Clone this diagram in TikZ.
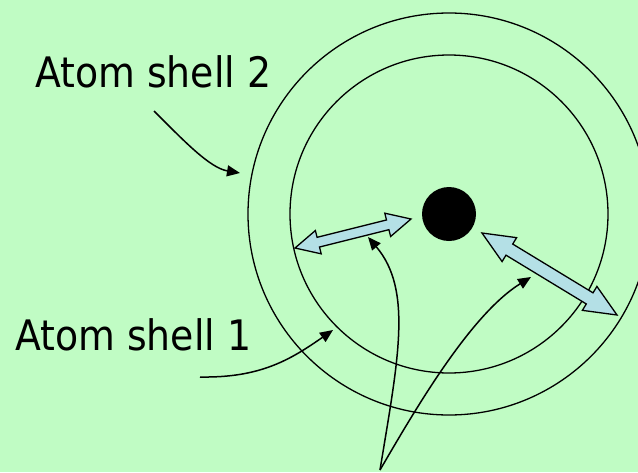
\documentclass[tikz,border=0pt]{standalone}
\usepackage{fontspec}
\setmainfont{DejaVu Sans}
\usetikzlibrary{calc,arrows.meta}
\definecolor{bggreen}{RGB}{192,252,196}
\definecolor{arrowblue}{RGB}{180,224,230}
\newcommand{\dblarrowpoly}[5]{% A, B, shaft half width, head half width, head length
  \filldraw[dblstyle] (#1)
   -- ($(#1)!#5!(#2)!#4!90:(#2)$)
   -- ($(#1)!#5!(#2)!#3!90:(#2)$)
   -- ($(#2)!#5!(#1)!#3!-90:(#1)$)
   -- ($(#2)!#5!(#1)!#4!-90:(#1)$)
   -- (#2)
   -- ($(#2)!#5!(#1)!#4!90:(#1)$)
   -- ($(#2)!#5!(#1)!#3!90:(#1)$)
   -- ($(#1)!#5!(#2)!#3!-90:(#2)$)
   -- ($(#1)!#5!(#2)!#4!-90:(#2)$)
   -- cycle;}
\begin{document}
\begin{tikzpicture}[x=1pt,y=-1pt,
  shell/.style={circle,draw=black,line width=1.3pt,inner sep=0pt},
  label/.style={anchor=base west,inner sep=0pt,font=\fontsize{42}{50}\selectfont},
  pointer/.style={line width=1.5pt,-{Triangle[length=13pt,width=11pt]}},
  dblstyle/.style={fill=arrowblue,draw=black,line width=1.3pt,line join=miter}]
\fill[bggreen] (0,0) rectangle (638,472);
\useasboundingbox (0,0) rectangle (638,472);
\clip (0,0) rectangle (638,472);
% shells and nucleus
\node[shell,minimum size=402pt] (shelltwo) at (449,214) {};
\node[shell,minimum size=318pt] (shellone) at (449,214) {};
\node[circle,fill=black,inner sep=0pt,minimum size=54pt] (nuc) at (449,214) {};
% labels
\node[label] (lbltwo) at (35,87) {\scalebox{0.9}[1]{Atom shell 2}};
\node[label] (lblone) at (15,350) {\scalebox{0.9}[1]{Atom shell 1}};
% double arrows
\coordinate (laA) at (295,248);
\coordinate (laB) at (411,219);
\coordinate (raA) at (482,233);
\coordinate (raB) at (617,315);
\dblarrowpoly{laA}{laB}{5pt}{12pt}{24pt}
\dblarrowpoly{raA}{raB}{6.5pt}{14pt}{32pt}
% pointers
\coordinate (ptwoS) at (154,111);
\coordinate (ptwoE) at (240,173);
\coordinate (poneS) at (200,377);
\coordinate (poneE) at (333,330);
\coordinate (base) at (380,470);
\coordinate (tipL) at (368,237);
\coordinate (tipR) at (531,277);
\draw[pointer] (ptwoS) .. controls (185,142) and (210,168) .. (ptwoE);
\draw[pointer] (poneS) .. controls (260,378) and (290,360) .. (poneE);
\draw[pointer] (base) .. controls (398,360) and (413,290) .. (tipL);
\draw[pointer] (base) .. controls (415,410) and (470,315) .. (tipR);
\end{tikzpicture}
\end{document}
